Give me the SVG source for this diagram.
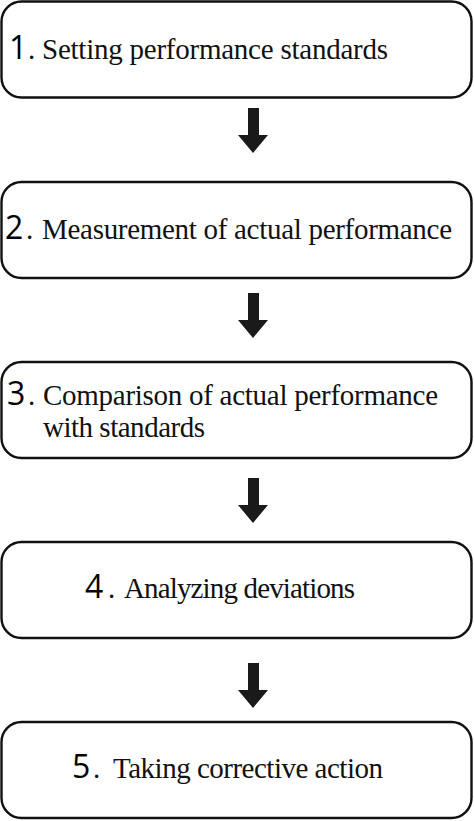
<svg xmlns="http://www.w3.org/2000/svg" width="474" height="821" viewBox="0 0 474 821">
<style>
.box{fill:#fff;stroke:#111;stroke-width:2.4}
.num{font-family:'Open Sans','Noto Sans',sans-serif;font-size:32px;fill:#000}
.txt{font-family:'Liberation Serif','DejaVu Serif',serif;font-size:29px;fill:#111}
.arrow{fill:#1a1a1a}
</style>
<rect width="474" height="821" fill="#fff"/>
<g id="node1">
<rect class="box" x="1.5" y="1.5" width="470" height="96" rx="20"/>
<text class="num" x="9" y="59">1</text>
<text class="txt" x="28" y="59">.</text>
<text class="txt" x="42" y="59" textLength="346">Setting performance standards</text>
</g>
<g id="node2">
<rect class="box" x="1.5" y="182" width="470" height="96" rx="20"/>
<text class="num" x="5" y="239">2</text>
<text class="txt" x="26" y="239">.</text>
<text class="txt" x="42" y="239" textLength="410">Measurement of actual performance</text>
</g>
<g id="node3">
<rect class="box" x="1.5" y="362" width="470" height="96" rx="20"/>
<text class="num" x="7" y="405">3</text>
<text class="txt" x="28" y="405">.</text>
<text class="txt" x="43" y="405" textLength="395">Comparison of actual performance</text>
<text class="txt" x="43" y="437" textLength="162">with standards</text>
</g>
<g id="node4">
<rect class="box" x="1.5" y="542" width="470" height="96" rx="20"/>
<text class="num" x="85" y="598">4</text>
<text class="txt" x="108" y="598">.</text>
<text class="txt" x="124" y="598" textLength="231">Analyzing deviations</text>
</g>
<g id="node5">
<rect class="box" x="1.5" y="722" width="470" height="96" rx="20"/>
<text class="num" x="72" y="778">5</text>
<text class="txt" x="93" y="778">.</text>
<text class="txt" x="113" y="778" textLength="270">Taking corrective action</text>
</g>
<g id="connectors">
<path class="arrow" d="M248 108 H259 V135 H268 L253 153 L238 135 H248 Z"/>
<path class="arrow" d="M248 293 H259 V320 H268 L253 338 L238 320 H248 Z"/>
<path class="arrow" d="M248 478 H259 V505 H268 L253 523 L238 505 H248 Z"/>
<path class="arrow" d="M248 663 H259 V690 H268 L253 708 L238 690 H248 Z"/>
</g>
</svg>
